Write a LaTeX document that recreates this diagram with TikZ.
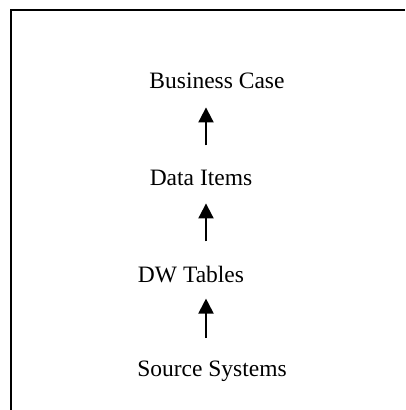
\documentclass[tikz,border=0pt]{standalone}
\usepackage{fontspec}
\setmainfont{Liberation Serif}
\usetikzlibrary{arrows.meta}
\tikzset{
  label text/.style={inner sep=0pt, anchor=base, font=\fontsize{23.5}{28}\selectfont},
  up arrow/.style={line width=2pt, -{Triangle[width=15pt,length=15pt]}},
  frame line/.style={line width=2pt, line join=miter}
}
\begin{document}
\begin{tikzpicture}[x=1pt,y=-1pt]
  \useasboundingbox (0,0) rectangle (405,410);
  % open frame: top and left edges only
  \draw[frame line] (405,10) -- (10.5,10) -- (10.5,410);

  % the four levels, bottom to top
  \node[label text] (bc) at (217,88) {Business Case};
  \node[label text] (di) at (201,185) {Data Items};
  \node[label text] (dw) at (191,282) {DW Tables};
  \node[label text] (ss) at (212,376) {Source Systems};

  % common arrow column
  \coordinate (ax) at (206,0);

  \draw[up arrow, shorten <=24pt, shorten >=19pt] (di.north -| ax) -- (bc.south -| ax);
  \draw[up arrow, shorten <=24pt, shorten >=18pt] (dw.north -| ax) -- (di.south -| ax);
  \draw[up arrow, shorten <=22pt, shorten >=16pt] (ss.north -| ax) -- (dw.south -| ax);
\end{tikzpicture}
\end{document}
